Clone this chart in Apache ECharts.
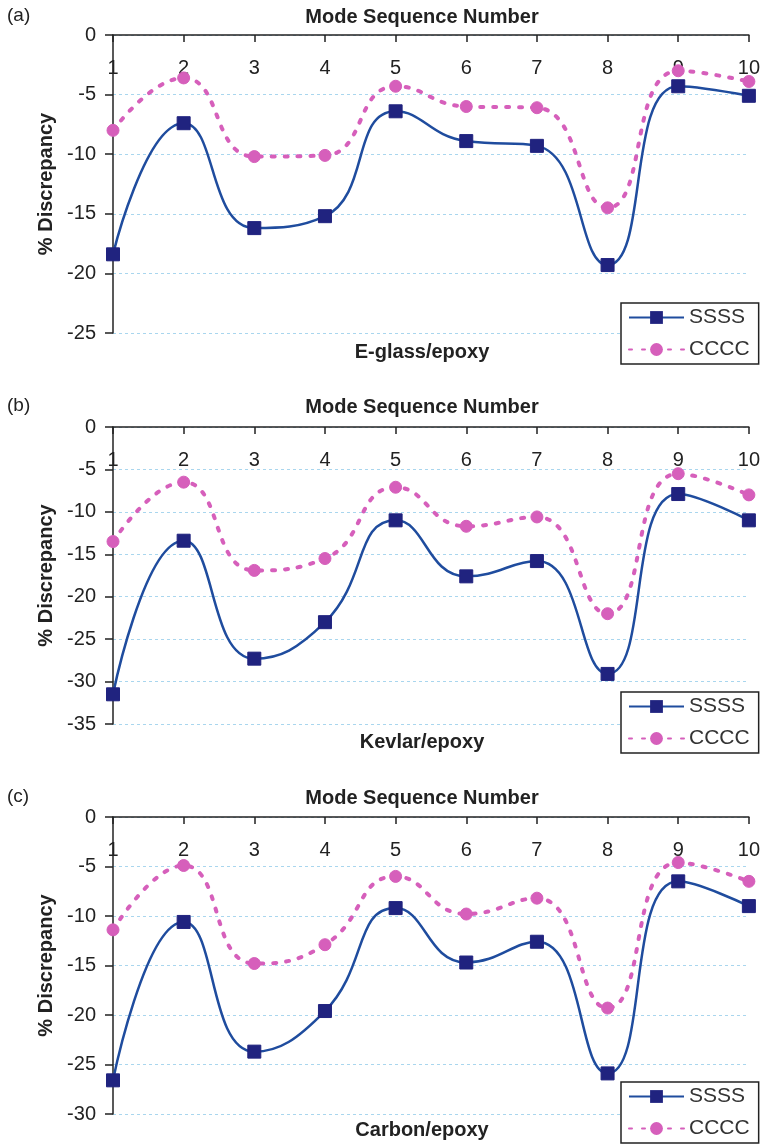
<!DOCTYPE html>
<html>
<head>
<meta charset="utf-8">
<script src="https://cdn.jsdelivr.net/npm/echarts@6/dist/echarts.min.js"></script>
<style>
html,body{margin:0;padding:0;background:#fff;}
#c{width:763px;height:1145px;}
</style>
</head>
<body>
<div id="c"></div>
<script>
// ---- data ----
const categories = ['1','2','3','4','5','6','7','8','9','10'];
const ssssA = [-18.4, -7.4, -16.2, -15.2, -6.4, -8.9, -9.3, -19.3, -4.3, -5.1];
const ccccA = [-8.0, -3.6, -10.2, -10.1, -4.3, -6.0, -6.1, -14.5, -3.0, -3.9];
const ssssB = [-31.5, -13.4, -27.3, -23.0, -11.0, -17.6, -15.8, -29.1, -7.9, -11.0];
const ccccB = [-13.5, -6.5, -16.9, -15.5, -7.1, -11.7, -10.6, -22.0, -5.5, -8.0];
const ssssC = [-26.6, -10.6, -23.7, -19.6, -9.2, -14.7, -12.6, -25.9, -6.5, -9.0];
const ccccC = [-11.4, -4.9, -14.8, -12.9, -6.0, -9.8, -8.2, -19.3, -4.6, -6.5];
const yMins = [-25, -35, -30];
const panelLabels = ['(a)', '(b)', '(c)'];
const materials = ['E-glass/epoxy', 'Kevlar/epoxy', 'Carbon/epoxy'];
const xTitle = 'Mode Sequence Number';
const yTitle = '% Discrepancy';
const seriesNames = ['SSSS', 'CCCC'];

// ---- layout ----
const FONT = 'Liberation Sans, Arial, sans-serif';
const grids = [
  {left:113, top:35, width:640, height:298},
  {left:113, top:427, width:640, height:297},
  {left:113, top:817, width:640, height:297}
];
const titleY = [17, 407, 798];
const bottomY = [352, 742, 1130];
const legendTop = [303, 692, 1082];
const ssssData = [ssssA, ssssB, ssssC];
const ccccData = [ccccA, ccccB, ccccC];

const lineBlue = '#1f4c9e';
const markNavy = '#20237f';
const pink = '#d65fbb';

const xAxes = [], yAxes = [], series = [], legends = [], graphics = [];
for (let i = 0; i < 3; i++) {
  xAxes.push({
    gridIndex:i, type:'category', data:categories, boundaryGap:false, position:'top',
    axisLine:{lineStyle:{color:'#222', width:1.5}},
    axisTick:{inside:true, length:7, lineStyle:{color:'#222', width:1.5}},
    axisLabel:{inside:true, margin:23, fontSize:20, color:'#222', fontFamily:FONT},
    splitLine:{show:false}
  });
  yAxes.push({
    gridIndex:i, type:'value', min:yMins[i], max:0, interval:5,
    name:yTitle, nameLocation:'middle', nameRotate:90, nameGap:55,
    nameTextStyle:{fontSize:20, fontWeight:'bold', color:'#222', fontFamily:FONT},
    axisLine:{show:true, lineStyle:{color:'#222', width:1.5}},
    axisTick:{show:true, length:8, lineStyle:{color:'#222', width:1.5}},
    axisLabel:{margin:17, fontSize:20, color:'#222', fontFamily:FONT},
    splitLine:{show:true, lineStyle:{color:'#a9d6ee', width:1, type:[3,3]}}
  });
  series.push({
    name:seriesNames[0], type:'line', xAxisIndex:i, yAxisIndex:i, data:ssssData[i],
    smooth:0.5, symbol:'rect', symbolSize:13, showAllSymbol:true,
    lineStyle:{color:lineBlue, width:2.5},
    itemStyle:{color:markNavy, borderColor:markNavy},
    z:3
  });
  series.push({
    name:seriesNames[1], type:'line', xAxisIndex:i, yAxisIndex:i, data:ccccData[i],
    smooth:0.5, symbol:'circle', symbolSize:12, showAllSymbol:true,
    lineStyle:{color:pink, width:4, type:[3,10], cap:'round'},
    itemStyle:{color:pink, borderColor:pink},
    z:2
  });
  legends.push({
    data:seriesNames, orient:'vertical', left:621, top:legendTop[i], height:54,
    padding:[4,9,4,7], itemWidth:55, itemHeight:16, itemGap:11,
    borderColor:'#222', borderWidth:1.5, backgroundColor:'#fff',
    textStyle:{fontSize:21, color:'#333', fontFamily:FONT},
    selectedMode:false, z:10
  });
  graphics.push({
    type:'text', left:7, top:titleY[i]-11,
    style:{text:panelLabels[i], fontSize:19, fill:'#222', fontFamily:FONT}
  });
  graphics.push({
    type:'text', x:422, y:titleY[i],
    style:{text:xTitle, fontSize:20, fontWeight:'bold', fill:'#222', fontFamily:FONT,
      textAlign:'center', textVerticalAlign:'middle'}
  });
  graphics.push({
    type:'text', x:422, y:bottomY[i],
    style:{text:materials[i], fontSize:20, fontWeight:'bold', fill:'#222', fontFamily:FONT,
      textAlign:'center', textVerticalAlign:'middle'}
  });
}

const chart = echarts.init(document.getElementById('c'), null, {renderer:'canvas'});
chart.setOption({
  backgroundColor:'#ffffff',
  animation:false,
  grid:grids,
  xAxis:xAxes,
  yAxis:yAxes,
  series:series,
  legend:legends,
  graphic:graphics
});
</script>
</body>
</html>
